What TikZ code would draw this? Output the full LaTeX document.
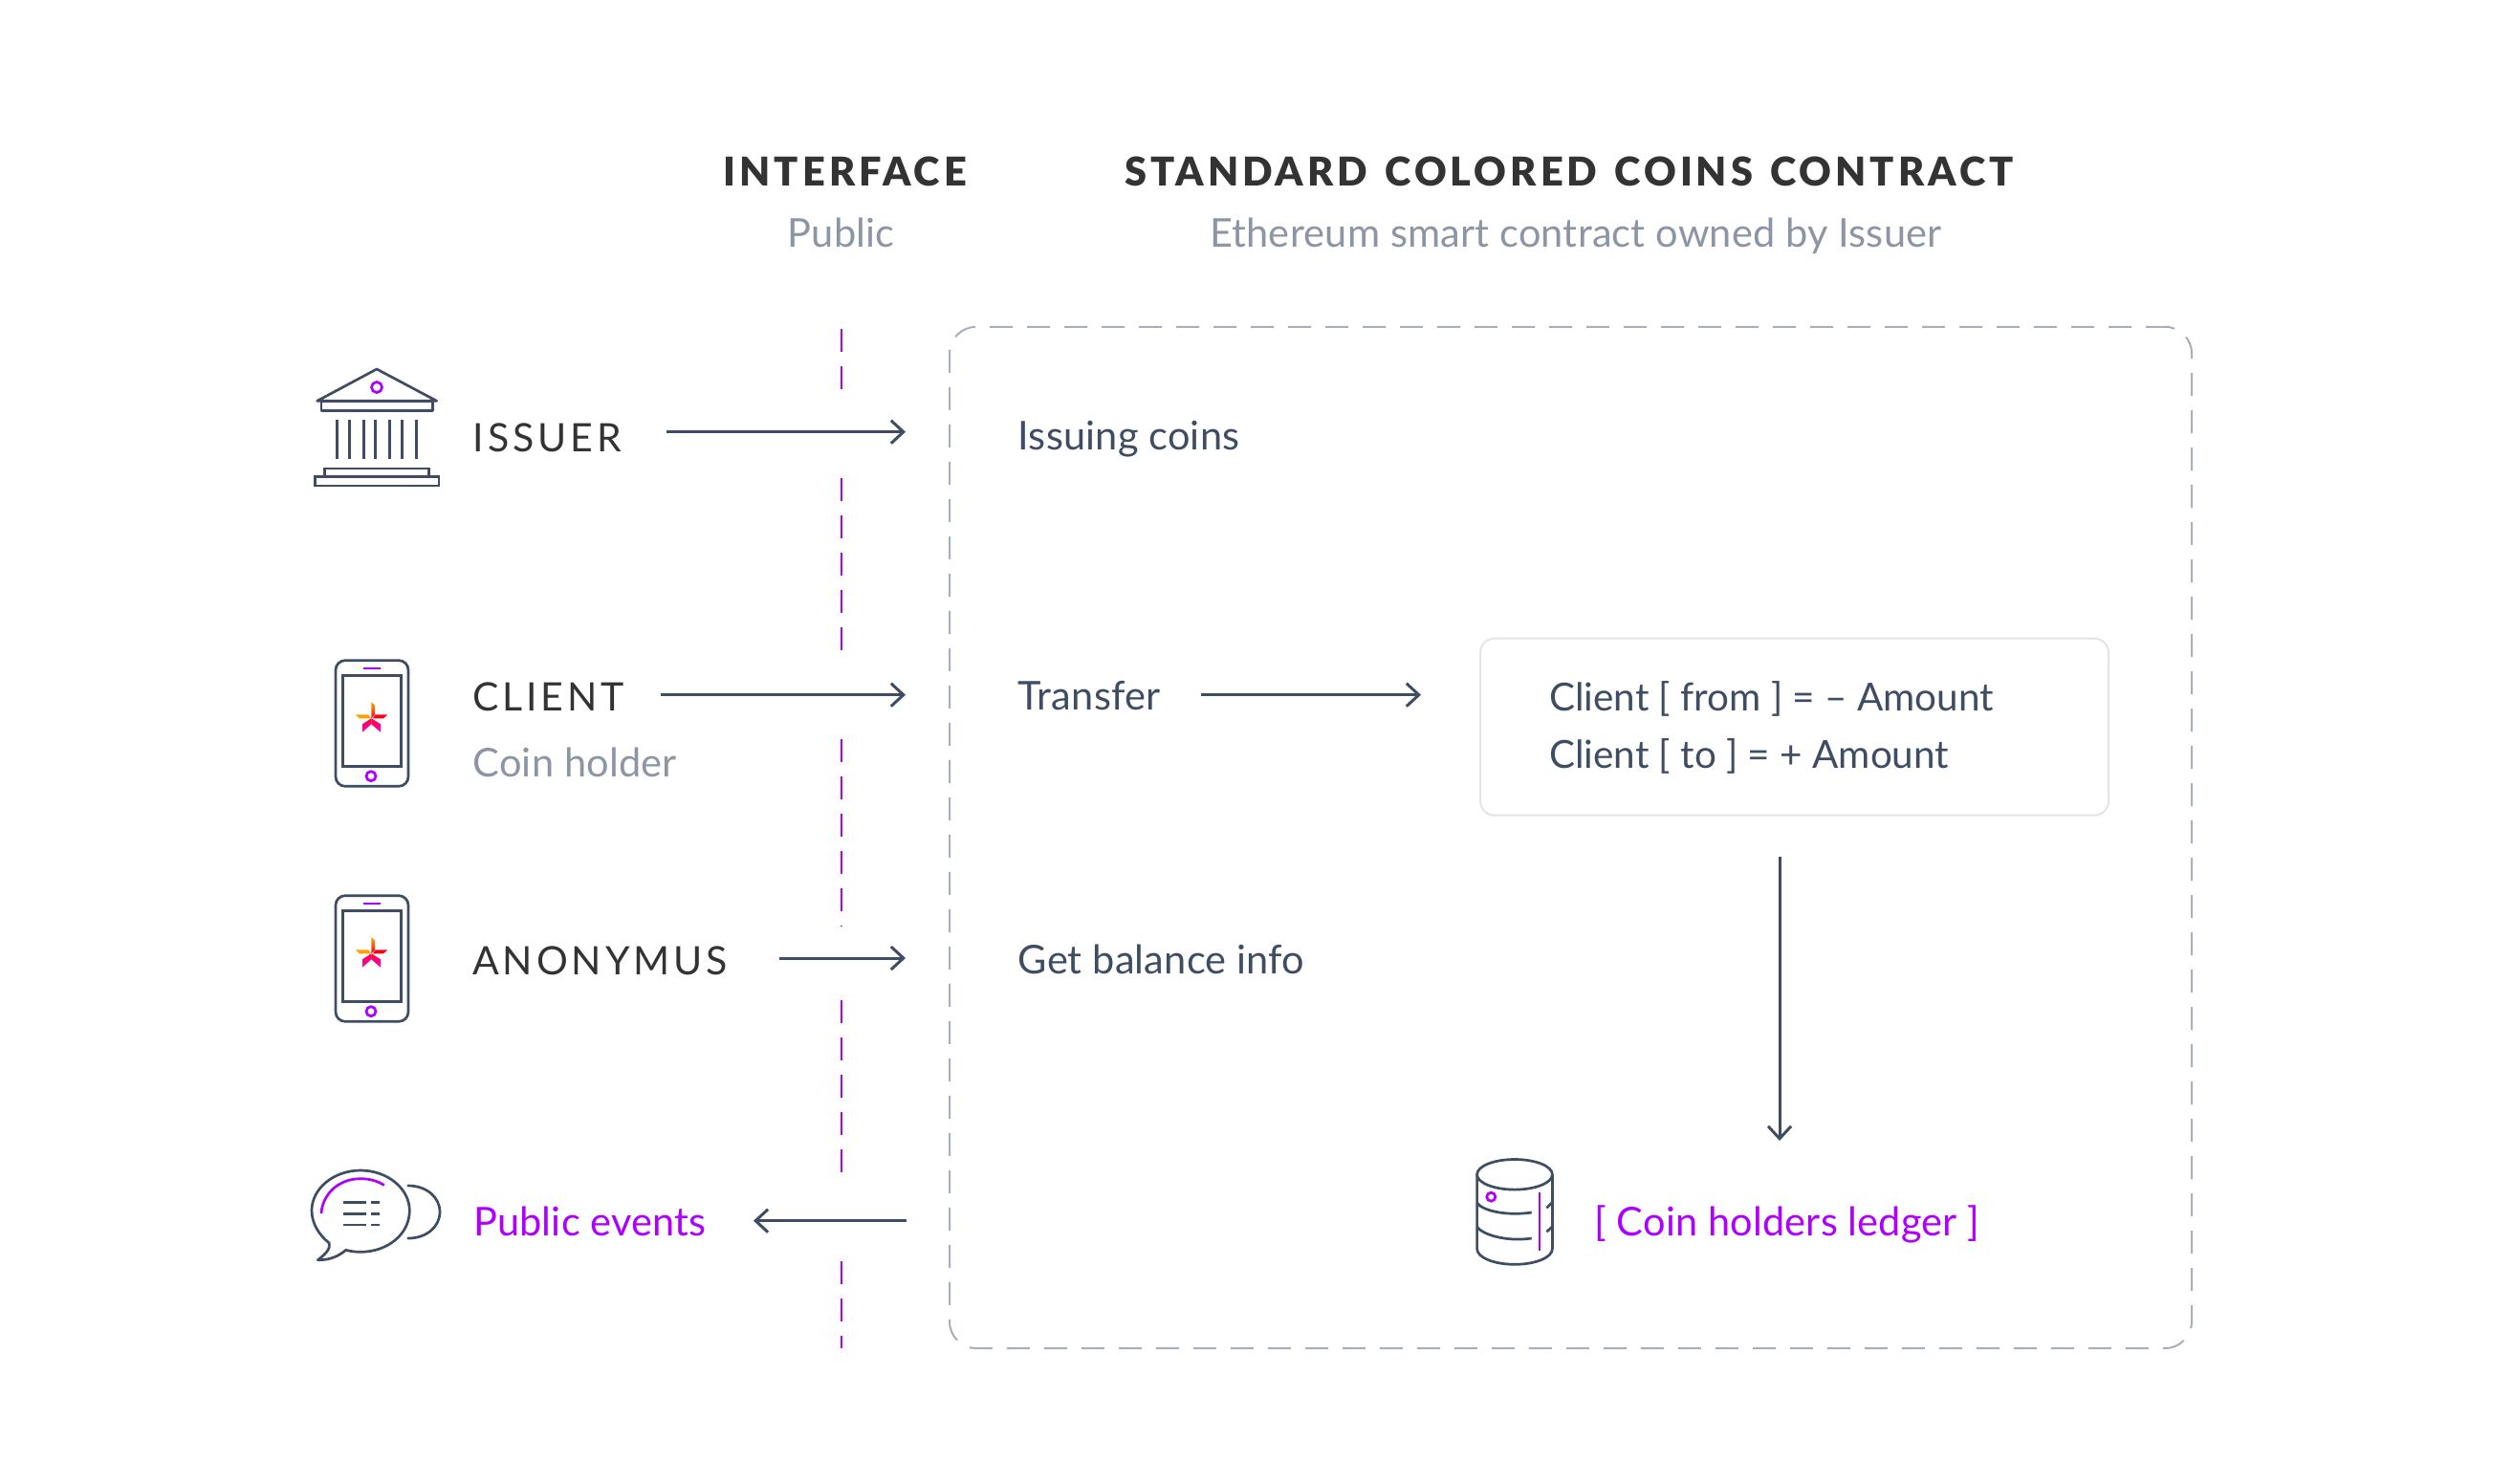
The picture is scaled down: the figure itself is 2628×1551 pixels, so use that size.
\documentclass[tikz,border=0pt]{standalone}
\usepackage{fontspec}
\setmainfont[LetterSpace=0.5]{Lato}
\newfontfamily\plainfont{Lato}
\newfontfamily\capsfont[LetterSpace=9.5]{Lato}
\newfontfamily\headfont[LetterSpace=9.7,WordSpace=1.33]{Lato Black}
\usetikzlibrary{arrows.meta}
\definecolor{slate}{HTML}{3E4D63}
\definecolor{ink}{HTML}{333333}
\definecolor{mist}{HTML}{8B95A4}
\definecolor{violet}{HTML}{AE00FF}
\tikzset{
  textnode/.style={anchor=base west, inner sep=0pt, font=\fontsize{41.5}{48}\selectfont},
  bodytext/.style={textnode, text=slate},
  balancetext/.style={textnode, text=slate, font=\plainfont\fontsize{40.4}{48}\selectfont},
  actortext/.style={textnode, text=ink, font=\capsfont\fontsize{41}{48}\selectfont},
  headtext/.style={textnode, text=ink, font=\headfont\fontsize{41.5}{48}\selectfont},
  subtext/.style={textnode, text=mist},
  accenttext/.style={textnode, text=violet},
  flow/.style={draw=slate, line width=3pt, -{Straight Barb[length=13pt,width=24pt,line width=3pt]}},
  iconline/.style={draw=slate, line width=2.7pt, line cap=round, line join=round},
  iconaccent/.style={draw=violet, line width=2.7pt},
  interfaceline/.style={draw=violet, line width=1.6pt, dash pattern=on 24pt off 15pt},
  contractbox/.style={draw=mist!75, line width=2pt, rounded corners=28pt, dash pattern=on 24pt off 15pt, dash phase=4pt, minimum width=1299pt, minimum height=1068.3pt, inner sep=0pt},
  balancebox/.style={draw=slate!15, line width=2pt, rounded corners=15pt, minimum width=657pt, minimum height=185pt, inner sep=0pt},
  pics/phoneicon/.style={code={
    \draw[iconline, rounded corners=10pt] (0,0) rectangle (76,131.6);
    \draw[iconline, line cap=butt, line join=miter] (7.3,15.6) rectangle (68.3,110.6);
    \draw[iconaccent] (29,8.3) -- (46.7,8.3);
    \draw[iconaccent] (37,121) circle (5pt);
    \shade[top color=orange!70!yellow, bottom color=red!90!magenta] (37.3,43.3) -- (41.7,47.6) -- (41.7,56.6) -- (37.3,60.6) -- cycle;
    \fill[red!90!magenta] (41.7,56.6) -- (54.3,56.6) -- (50,60.6) -- (39,60.6) -- cycle;
    \fill[orange!75!yellow] (20.7,56.6) -- (34,56.6) -- (37.3,60.6) -- (25,60.6) -- cycle;
    \shade[top color=red!80!magenta, bottom color=magenta!80!red] (37.3,60.6) -- (37.3,66.6) -- (28,75) -- (28,66.6) -- cycle;
    \shade[top color=red!80!magenta, bottom color=magenta!80!red] (37.3,60.6) -- (47,66.6) -- (47,75) -- (37.3,66.6) -- cycle;
  }}
}
\begin{document}
\begin{tikzpicture}[x=1pt, y=-1pt]
  \useasboundingbox (0,0) rectangle (2628,1551);
  % column titles
  \node[headtext] (interface) at (756.5,194) {INTERFACE};
  \node[headtext] (standard) at (1176,194) {STANDARD COLORED COINS CONTRACT};
  \node[subtext] (public) at (823.5,258) {Public};
  \node[subtext] (owned) at (1265,258) {Ethereum smart contract owned by Issuer};
  % interface line
  \draw[interfaceline] (879.7,344) -- (879.7,407);
  \draw[interfaceline] (879.7,500) -- (879.7,680);
  \draw[interfaceline] (879.7,773) -- (879.7,968.3);
  \draw[interfaceline] (879.7,1046) -- (879.7,1226);
  \draw[interfaceline] (879.7,1319) -- (879.7,1410);
  % boxes
  \node[contractbox] (contract) at (1642.5,875.9) {};
  \node[balancebox] (balance) at (1876.5,760.2) {};
  % actors
  \node[actortext] (issuer) at (494.5,472) {ISSUER};
  \node[actortext] (client) at (494,743.5) {CLIENT};
  \node[subtext] (holder) at (494.5,812) {Coin holder};
  \node[actortext] (anonymus) at (494,1019.5) {ANONYMUS};
  \node[accenttext] (events) at (495,1292.5) {Public events};
  % contract
  \node[bodytext] (issuing) at (1064.5,470.5) {Issuing coins};
  \node[bodytext] (transfer) at (1064.5,742.7) {Transfer};
  \node[bodytext] (getinfo) at (1064.5,1018.3) {Get balance info};
  \node[balancetext] (fromline) at (1620,743) {Client [ from ] = – Amount};
  \node[balancetext] (toline) at (1620,803) {Client [ to ] = + Amount};
  \node[accenttext] (ledger) at (1667,1292.5) {[ Coin holders ledger ]};
  % arrows
  \coordinate (issuerin) at (947,451.7);
  \coordinate (clientin) at (947,726.7);
  \coordinate (anonin) at (947,1002);
  \coordinate (eventsout) at (947.7,1276.7);
  \coordinate (balancein) at (1486,726.7);
  \coordinate (ledgerin) at (1861,1193);
  \draw[flow] ([xshift=47pt]issuer.east |- issuerin) -- (issuerin);
  \draw[flow] ([xshift=38pt]client.east |- clientin) -- (clientin);
  \draw[flow] ([xshift=54pt]anonymus.east |- anonin) -- (anonin);
  \draw[flow] (eventsout) -- ([xshift=49pt]events.east |- eventsout);
  \draw[flow] ([xshift=42pt]transfer.east |- balancein) -- (balancein);
  \draw[flow] ([yshift=-42pt]balance.south -| ledgerin) -- (ledgerin);
  % bank
  \draw[iconline] (331.7,419.3) -- (394,386) -- (456.7,419.3) -- cycle;
  \draw[iconline] (336,420) rectangle (452.7,429.3);
  \draw[iconaccent] (394,405) circle (5.5pt);
  \draw[iconline, line cap=butt] (352.7,439) -- (352.7,480.3) (365.3,439) -- (365.3,480.3)
    (380.3,439) -- (380.3,480.3) (392.7,439) -- (392.7,480.3) (407.7,439) -- (407.7,480.3)
    (420.3,439) -- (420.3,480.3) (435.3,439) -- (435.3,480.3);
  \draw[iconline, line cap=butt, line join=miter] (339.3,490) rectangle (448.7,498.3);
  \draw[iconline, line cap=butt, line join=miter] (329.3,498.7) rectangle (459,508);
  % phones
  \pic at (351,690.7) {phoneicon};
  \pic at (351,936.7) {phoneicon};
  % speech bubbles
  \draw[iconline] (344.3,1300) .. controls (333,1291) and (326,1279) .. (326,1266)
    .. controls (326,1243) and (349,1224) .. (377,1224)
    .. controls (405,1224) and (428.3,1243) .. (428.3,1266)
    .. controls (428.3,1291) and (405,1309.3) .. (377,1309.3)
    .. controls (371,1309.3) and (366,1308.5) .. (361.7,1307.3)
    .. controls (354,1314) and (344,1318) .. (332.3,1317.7)
    .. controls (340,1312) and (346,1306) .. cycle;
  \draw[iconaccent] (336,1269) .. controls (337,1250) and (353,1232.7) .. (377,1232.7)
    .. controls (386,1232.7) and (395,1235) .. (401.7,1239.5);
  \draw[iconline] (426.7,1240) .. controls (446,1240) and (460,1252) .. (460,1267.5)
    .. controls (460,1283) and (446,1295) .. (426.7,1295);
  \draw[iconline, line cap=butt] (359.3,1257.7) -- (383.3,1257.7) (388.3,1257.7) -- (397.3,1257.7)
    (359.3,1269.3) -- (383.3,1269.3) (388.3,1269.3) -- (397.3,1269.3)
    (359.3,1281) -- (383.3,1281) (388.3,1281) -- (397.3,1281);
  % ledger drum
  \draw[iconline] (1584,1228.3) ellipse (39.4pt and 15.8pt);
  \draw[iconline] (1544.6,1228.3) -- (1544.6,1306) .. controls (1544.6,1315) and (1562,1322.3) .. (1584,1322.3)
    .. controls (1606,1322.3) and (1623.4,1315) .. (1623.4,1306) -- (1623.4,1228.3);
  \draw[iconline, line cap=butt] (1544.6,1258) .. controls (1550,1266) and (1575,1272) .. (1601.7,1268);
  \draw[iconline, line cap=butt] (1544.6,1283) .. controls (1550,1291) and (1575,1299) .. (1601.7,1295);
  \draw[iconline, line cap=butt] (1617.4,1263.3) -- (1623.4,1257.3) (1617.4,1288.3) -- (1623.4,1282.7);
  \draw[iconaccent] (1610,1247.3) -- (1610,1308.3);
  \draw[iconaccent] (1559.3,1251.7) circle (4.5pt);
\end{tikzpicture}
\end{document}
